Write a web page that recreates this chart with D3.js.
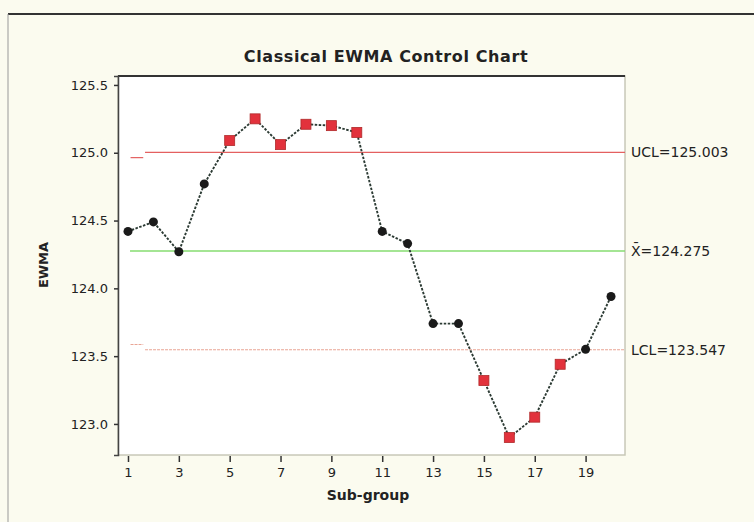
<!DOCTYPE html>
<html>
<head>
<meta charset="utf-8">
<script src="https://cdn.jsdelivr.net/npm/d3@7"></script>
<style>
  body { margin: 0; background: #fbfbef; }
  svg { display: block; }
  text { font-family: "DejaVu Sans", sans-serif; fill: #222; }
</style>
</head>
<body>
<div id="chart"></div>
<script>
// data
const subgroups = d3.range(1, 21);
const ewma = [124.42, 124.49, 124.27, 124.77, 125.09, 125.25, 125.06, 125.21, 125.20, 125.15,
              124.42, 124.33, 123.74, 123.74, 123.32, 122.90, 123.05, 123.44, 123.55, 123.94];
const center = 124.275;
const uclSteps = [{ x0: 1.1, x1: 1.6, v: 124.964 }, { x0: 1.67, x1: 20.55, v: 125.003 }];
const lclSteps = [{ x0: 1.1, x1: 1.6, v: 123.586 }, { x0: 1.67, x1: 20.55, v: 123.547 }];
const yTicks = [123.0, 123.5, 124.0, 124.5, 125.0, 125.5];
const xTicks = [1, 3, 5, 7, 9, 11, 13, 15, 17, 19];
const limitLabels = [
    { text: "UCL=125.003", v: 125.003 },
    { text: "X\u0304=124.275", v: center },
    { text: "LCL=123.547", v: 123.547 }
];

const width = 754, height = 522;
const plot = { left: 118, right: 625, top: 76, bottom: 455 };

const svg = d3.select('#chart').append('svg')
    .attr('width', width)
    .attr('height', height);

// outer frame
svg.append('line').attr('x1', 8).attr('x2', width).attr('y1', 14).attr('y2', 14)
    .attr('stroke', '#333').attr('stroke-width', 2);
svg.append('line').attr('x1', 8).attr('x2', 8).attr('y1', 14).attr('y2', height)
    .attr('stroke', '#999').attr('stroke-width', 1);

// scales
const x = d3.scaleLinear().domain([0.607, 20.55]).range([plot.left, plot.right]);
const y = d3.scaleLinear().domain([122.771, 125.566]).range([plot.bottom, plot.top]);

// plot area
svg.append('rect')
    .attr('x', plot.left).attr('y', plot.top)
    .attr('width', plot.right - plot.left).attr('height', plot.bottom - plot.top)
    .attr('fill', '#fff').attr('stroke', '#c8c8b8').attr('stroke-width', 1.5);
svg.append('line').attr('x1', plot.left).attr('x2', plot.right).attr('y1', plot.top).attr('y2', plot.top)
    .attr('stroke', '#333').attr('stroke-width', 2);

// axes
const yaxis = d3.axisLeft(y).tickValues(yTicks).tickFormat(d3.format('.1f')).tickSize(4);
svg.append('g')
    .attr('transform', 'translate(' + plot.left + ',0)')
    .call(yaxis)
    .call(g => g.select('.domain').attr('stroke', '#444').attr('stroke-width', 1.5))
    .call(g => g.selectAll('.tick line').attr('stroke', '#333').attr('stroke-width', 1.5))
    .call(g => g.selectAll('.tick text').attr('font-size', 13).attr('fill', '#222').attr('x', -10));

const xaxis = d3.axisBottom(x).tickValues(xTicks).tickSize(6);
svg.append('g')
    .attr('transform', 'translate(0,' + (plot.bottom + 1) + ')')
    .call(xaxis)
    .call(g => g.select('.domain').remove())
    .call(g => g.selectAll('.tick line').attr('stroke', '#333').attr('stroke-width', 1.5))
    .call(g => g.selectAll('.tick text').attr('font-size', 13).attr('fill', '#222').attr('y', 12));

// limit lines
const stepLine = (steps, color, dash) => {
    svg.append('g').selectAll('line').data(steps).join('line')
        .attr('x1', d => x(d.x0)).attr('x2', d => x(d.x1))
        .attr('y1', d => y(d.v)).attr('y2', d => y(d.v))
        .attr('stroke', color).attr('stroke-width', 1.2)
        .attr('stroke-dasharray', dash);
};
stepLine(uclSteps, '#e46060', null);
stepLine(lclSteps, '#e9a595', '3,1');
svg.append('line')
    .attr('x1', x(1.08)).attr('x2', x(20.55))
    .attr('y1', y(center)).attr('y2', y(center))
    .attr('stroke', '#86dc70').attr('stroke-width', 1.4);

// limit labels
svg.append('g').selectAll('text').data(limitLabels).join('text')
    .attr('x', 631).attr('y', d => y(d.v) + 5)
    .attr('font-size', 14)
    .text(d => d.text);

// ewma line
const pts = subgroups.map((s, i) => ({ s: s, v: ewma[i] }));
svg.append('path')
    .datum(pts)
    .attr('fill', 'none')
    .attr('stroke', '#2b3a33')
    .attr('stroke-width', 1.9)
    .attr('stroke-dasharray', '2.5,1.5')
    .attr('d', d3.line().x(d => x(d.s)).y(d => y(d.v)));

// markers
const out = d => d.v > 125.003 || d.v < 123.547;
svg.append('g').selectAll('circle').data(pts.filter(d => !out(d))).join('circle')
    .attr('cx', d => x(d.s)).attr('cy', d => y(d.v)).attr('r', 4.5)
    .attr('fill', '#1a1a1a');
svg.append('g').selectAll('rect').data(pts.filter(out)).join('rect')
    .attr('x', d => x(d.s) - 5).attr('y', d => y(d.v) - 5)
    .attr('width', 10).attr('height', 10)
    .attr('fill', '#e2323c').attr('stroke', '#b02a2a').attr('stroke-width', 0.8);

// titles
svg.append('text')
    .attr('x', 386).attr('y', 62)
    .attr('text-anchor', 'middle')
    .attr('font-size', 16).attr('font-weight', 'bold')
    .attr('letter-spacing', 0.6)
    .text('Classical EWMA Control Chart');
svg.append('text')
    .attr('x', 368).attr('y', 500)
    .attr('text-anchor', 'middle')
    .attr('font-size', 14).attr('font-weight', 'bold')
    .text('Sub-group');
svg.append('text')
    .attr('transform', 'translate(48,265) rotate(-90)')
    .attr('text-anchor', 'middle')
    .attr('font-size', 13).attr('font-weight', 'bold')
    .text('EWMA');
</script>
</body>
</html>
